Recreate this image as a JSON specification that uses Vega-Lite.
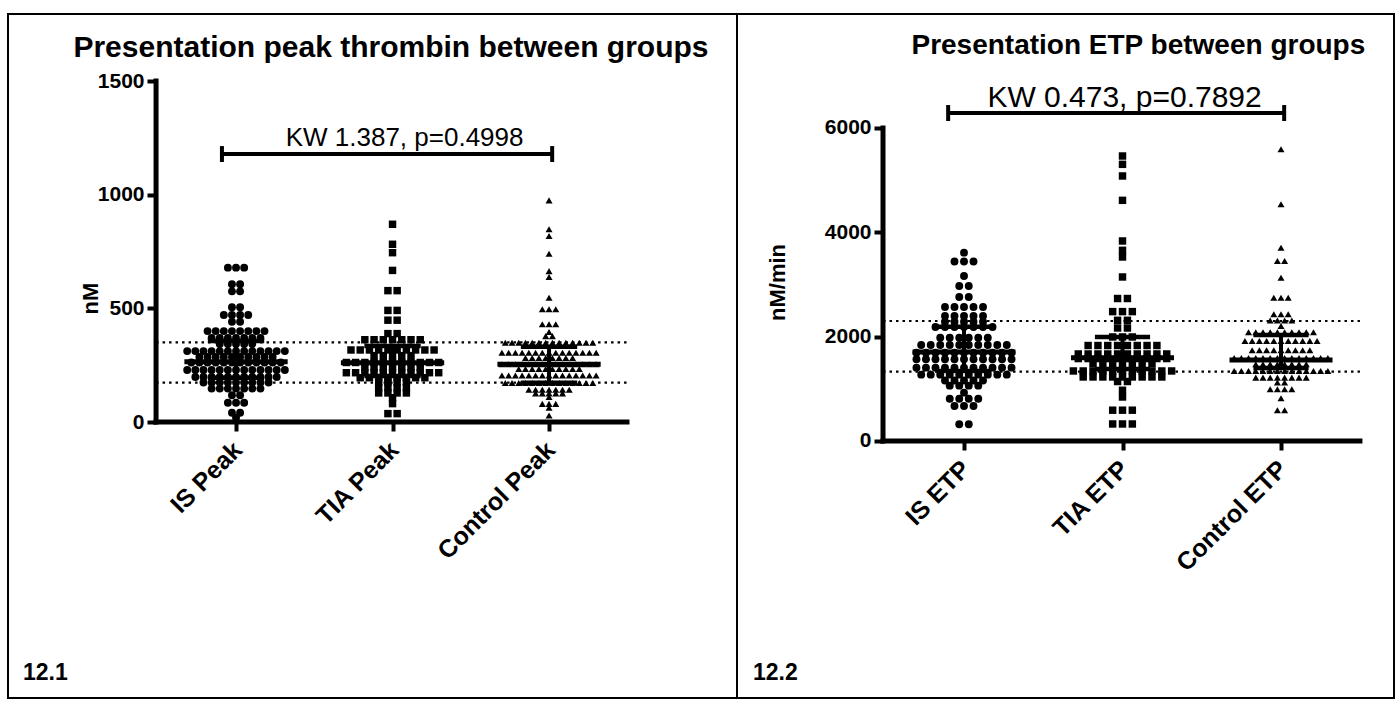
{
"$schema": "https://vega.github.io/schema/vega-lite/v6.json",
"background": "white",
"padding": {"left": 7, "top": 13, "right": 6, "bottom": 7},
"spacing": 0,
"bounds": "flush",
"config": {"view": {"stroke": "black", "strokeWidth": 2}, "font": "Liberation Sans", "axis": {"labelColor": "black", "titleColor": "black", "tickColor": "black"}},
"resolve": {"scale": {"x": "independent", "y": "independent", "shape": "independent", "size": "independent"}},
"datasets": {
"peakStats": [{"group":"IS Peak","median":265,"q1":195,"q3":356},{"group":"TIA Peak","median":261,"q1":202,"q3":334},{"group":"Control Peak","median":254,"q1":173,"q3":331}],
"etpStats": [{"group":"IS ETP","median":1706,"q1":1342,"q3":2191},{"group":"TIA ETP","median":1597,"q1":1380,"q3":1994},{"group":"Control ETP","median":1553,"q1":1400,"q3":2032}],
"peak": [
{"group":"IS Peak","value":679},{"group":"IS Peak","value":679},{"group":"IS Peak","value":679},
{"group":"IS Peak","value":606},{"group":"IS Peak","value":606},
{"group":"IS Peak","value":575},{"group":"IS Peak","value":575},
{"group":"IS Peak","value":505},{"group":"IS Peak","value":505},
{"group":"IS Peak","value":471},{"group":"IS Peak","value":471},{"group":"IS Peak","value":471},{"group":"IS Peak","value":471},
{"group":"IS Peak","value":441},{"group":"IS Peak","value":441},
{"group":"IS Peak","value":400},{"group":"IS Peak","value":400},{"group":"IS Peak","value":400},{"group":"IS Peak","value":400},{"group":"IS Peak","value":400},{"group":"IS Peak","value":400},{"group":"IS Peak","value":400},{"group":"IS Peak","value":400},
{"group":"IS Peak","value":370},{"group":"IS Peak","value":370},{"group":"IS Peak","value":370},{"group":"IS Peak","value":370},{"group":"IS Peak","value":370},{"group":"IS Peak","value":370},{"group":"IS Peak","value":370},
{"group":"IS Peak","value":343},{"group":"IS Peak","value":343},{"group":"IS Peak","value":343},{"group":"IS Peak","value":343},{"group":"IS Peak","value":343},
{"group":"IS Peak","value":312},{"group":"IS Peak","value":312},{"group":"IS Peak","value":312},{"group":"IS Peak","value":312},{"group":"IS Peak","value":312},{"group":"IS Peak","value":312},{"group":"IS Peak","value":312},{"group":"IS Peak","value":312},{"group":"IS Peak","value":312},{"group":"IS Peak","value":312},{"group":"IS Peak","value":312},{"group":"IS Peak","value":312},{"group":"IS Peak","value":312},
{"group":"IS Peak","value":286},{"group":"IS Peak","value":286},{"group":"IS Peak","value":286},{"group":"IS Peak","value":286},{"group":"IS Peak","value":286},{"group":"IS Peak","value":286},{"group":"IS Peak","value":286},{"group":"IS Peak","value":286},{"group":"IS Peak","value":286},{"group":"IS Peak","value":286},
{"group":"IS Peak","value":262},{"group":"IS Peak","value":262},{"group":"IS Peak","value":262},{"group":"IS Peak","value":262},{"group":"IS Peak","value":262},{"group":"IS Peak","value":262},{"group":"IS Peak","value":262},{"group":"IS Peak","value":262},{"group":"IS Peak","value":262},{"group":"IS Peak","value":262},{"group":"IS Peak","value":262},{"group":"IS Peak","value":262},
{"group":"IS Peak","value":229},{"group":"IS Peak","value":229},{"group":"IS Peak","value":229},{"group":"IS Peak","value":229},{"group":"IS Peak","value":229},{"group":"IS Peak","value":229},{"group":"IS Peak","value":229},{"group":"IS Peak","value":229},{"group":"IS Peak","value":229},{"group":"IS Peak","value":229},{"group":"IS Peak","value":229},{"group":"IS Peak","value":229},{"group":"IS Peak","value":229},
{"group":"IS Peak","value":198},{"group":"IS Peak","value":198},{"group":"IS Peak","value":198},{"group":"IS Peak","value":198},{"group":"IS Peak","value":198},{"group":"IS Peak","value":198},{"group":"IS Peak","value":198},{"group":"IS Peak","value":198},{"group":"IS Peak","value":198},{"group":"IS Peak","value":198},{"group":"IS Peak","value":198},
{"group":"IS Peak","value":174},{"group":"IS Peak","value":174},{"group":"IS Peak","value":174},{"group":"IS Peak","value":174},{"group":"IS Peak","value":174},{"group":"IS Peak","value":174},{"group":"IS Peak","value":174},{"group":"IS Peak","value":174},{"group":"IS Peak","value":174},
{"group":"IS Peak","value":147},{"group":"IS Peak","value":147},{"group":"IS Peak","value":147},{"group":"IS Peak","value":147},{"group":"IS Peak","value":147},{"group":"IS Peak","value":147},{"group":"IS Peak","value":147},
{"group":"IS Peak","value":118},{"group":"IS Peak","value":118},
{"group":"IS Peak","value":85},{"group":"IS Peak","value":85},{"group":"IS Peak","value":85},
{"group":"IS Peak","value":41},{"group":"IS Peak","value":41},
{"group":"IS Peak","value":19},
{"group":"TIA Peak","value":870},{"group":"TIA Peak","value":782},{"group":"TIA Peak","value":745},{"group":"TIA Peak","value":667},
{"group":"TIA Peak","value":578},{"group":"TIA Peak","value":578},
{"group":"TIA Peak","value":491},{"group":"TIA Peak","value":491},
{"group":"TIA Peak","value":448},{"group":"TIA Peak","value":448},
{"group":"TIA Peak","value":389},{"group":"TIA Peak","value":389},
{"group":"TIA Peak","value":362},{"group":"TIA Peak","value":362},{"group":"TIA Peak","value":362},{"group":"TIA Peak","value":362},{"group":"TIA Peak","value":362},{"group":"TIA Peak","value":362},{"group":"TIA Peak","value":362},
{"group":"TIA Peak","value":317},{"group":"TIA Peak","value":317},{"group":"TIA Peak","value":317},{"group":"TIA Peak","value":317},{"group":"TIA Peak","value":317},{"group":"TIA Peak","value":317},{"group":"TIA Peak","value":317},{"group":"TIA Peak","value":317},{"group":"TIA Peak","value":317},{"group":"TIA Peak","value":317},
{"group":"TIA Peak","value":292},{"group":"TIA Peak","value":292},{"group":"TIA Peak","value":292},{"group":"TIA Peak","value":292},{"group":"TIA Peak","value":292},
{"group":"TIA Peak","value":262},{"group":"TIA Peak","value":262},{"group":"TIA Peak","value":262},{"group":"TIA Peak","value":262},{"group":"TIA Peak","value":262},{"group":"TIA Peak","value":262},{"group":"TIA Peak","value":262},{"group":"TIA Peak","value":262},{"group":"TIA Peak","value":262},{"group":"TIA Peak","value":262},{"group":"TIA Peak","value":262},
{"group":"TIA Peak","value":240},{"group":"TIA Peak","value":240},{"group":"TIA Peak","value":240},{"group":"TIA Peak","value":240},{"group":"TIA Peak","value":240},{"group":"TIA Peak","value":240},{"group":"TIA Peak","value":240},
{"group":"TIA Peak","value":217},{"group":"TIA Peak","value":217},{"group":"TIA Peak","value":217},{"group":"TIA Peak","value":217},{"group":"TIA Peak","value":217},{"group":"TIA Peak","value":217},{"group":"TIA Peak","value":217},{"group":"TIA Peak","value":217},{"group":"TIA Peak","value":217},{"group":"TIA Peak","value":217},{"group":"TIA Peak","value":217},
{"group":"TIA Peak","value":195},{"group":"TIA Peak","value":195},{"group":"TIA Peak","value":195},{"group":"TIA Peak","value":195},{"group":"TIA Peak","value":195},{"group":"TIA Peak","value":195},{"group":"TIA Peak","value":195},{"group":"TIA Peak","value":195},
{"group":"TIA Peak","value":176},{"group":"TIA Peak","value":176},{"group":"TIA Peak","value":176},{"group":"TIA Peak","value":176},
{"group":"TIA Peak","value":151},{"group":"TIA Peak","value":151},{"group":"TIA Peak","value":151},{"group":"TIA Peak","value":151},
{"group":"TIA Peak","value":128},{"group":"TIA Peak","value":128},{"group":"TIA Peak","value":128},{"group":"TIA Peak","value":128},
{"group":"TIA Peak","value":107},{"group":"TIA Peak","value":81},
{"group":"TIA Peak","value":37},{"group":"TIA Peak","value":37},
{"group":"Control Peak","value":975},{"group":"Control Peak","value":848},{"group":"Control Peak","value":818},{"group":"Control Peak","value":740},{"group":"Control Peak","value":664},{"group":"Control Peak","value":638},{"group":"Control Peak","value":547},
{"group":"Control Peak","value":496},{"group":"Control Peak","value":496},{"group":"Control Peak","value":496},
{"group":"Control Peak","value":430},{"group":"Control Peak","value":430},{"group":"Control Peak","value":430},
{"group":"Control Peak","value":396},
{"group":"Control Peak","value":378},{"group":"Control Peak","value":378},
{"group":"Control Peak","value":349},{"group":"Control Peak","value":349},{"group":"Control Peak","value":349},{"group":"Control Peak","value":349},{"group":"Control Peak","value":349},{"group":"Control Peak","value":349},{"group":"Control Peak","value":349},{"group":"Control Peak","value":349},{"group":"Control Peak","value":349},{"group":"Control Peak","value":349},{"group":"Control Peak","value":349},{"group":"Control Peak","value":349},{"group":"Control Peak","value":349},{"group":"Control Peak","value":349},
{"group":"Control Peak","value":305},{"group":"Control Peak","value":305},{"group":"Control Peak","value":305},{"group":"Control Peak","value":305},{"group":"Control Peak","value":305},{"group":"Control Peak","value":305},{"group":"Control Peak","value":305},{"group":"Control Peak","value":305},{"group":"Control Peak","value":305},{"group":"Control Peak","value":305},{"group":"Control Peak","value":305},{"group":"Control Peak","value":305},{"group":"Control Peak","value":305},{"group":"Control Peak","value":305},{"group":"Control Peak","value":305},
{"group":"Control Peak","value":282},{"group":"Control Peak","value":282},{"group":"Control Peak","value":282},{"group":"Control Peak","value":282},{"group":"Control Peak","value":282},{"group":"Control Peak","value":282},{"group":"Control Peak","value":282},{"group":"Control Peak","value":282},
{"group":"Control Peak","value":254},{"group":"Control Peak","value":254},{"group":"Control Peak","value":254},{"group":"Control Peak","value":254},{"group":"Control Peak","value":254},{"group":"Control Peak","value":254},{"group":"Control Peak","value":254},{"group":"Control Peak","value":254},{"group":"Control Peak","value":254},{"group":"Control Peak","value":254},{"group":"Control Peak","value":254},{"group":"Control Peak","value":254},{"group":"Control Peak","value":254},{"group":"Control Peak","value":254},{"group":"Control Peak","value":254},
{"group":"Control Peak","value":233},{"group":"Control Peak","value":233},{"group":"Control Peak","value":233},{"group":"Control Peak","value":233},{"group":"Control Peak","value":233},{"group":"Control Peak","value":233},{"group":"Control Peak","value":233},{"group":"Control Peak","value":233},{"group":"Control Peak","value":233},{"group":"Control Peak","value":233},
{"group":"Control Peak","value":205},{"group":"Control Peak","value":205},{"group":"Control Peak","value":205},{"group":"Control Peak","value":205},{"group":"Control Peak","value":205},{"group":"Control Peak","value":205},{"group":"Control Peak","value":205},{"group":"Control Peak","value":205},{"group":"Control Peak","value":205},{"group":"Control Peak","value":205},{"group":"Control Peak","value":205},{"group":"Control Peak","value":205},{"group":"Control Peak","value":205},{"group":"Control Peak","value":205},{"group":"Control Peak","value":205},
{"group":"Control Peak","value":172},{"group":"Control Peak","value":172},{"group":"Control Peak","value":172},{"group":"Control Peak","value":172},{"group":"Control Peak","value":172},{"group":"Control Peak","value":172},{"group":"Control Peak","value":172},{"group":"Control Peak","value":172},{"group":"Control Peak","value":172},{"group":"Control Peak","value":172},{"group":"Control Peak","value":172},{"group":"Control Peak","value":172},{"group":"Control Peak","value":172},{"group":"Control Peak","value":172},
{"group":"Control Peak","value":142},{"group":"Control Peak","value":142},{"group":"Control Peak","value":142},{"group":"Control Peak","value":142},{"group":"Control Peak","value":142},{"group":"Control Peak","value":142},{"group":"Control Peak","value":142},
{"group":"Control Peak","value":126},{"group":"Control Peak","value":126},{"group":"Control Peak","value":126},{"group":"Control Peak","value":126},{"group":"Control Peak","value":126},
{"group":"Control Peak","value":110},
{"group":"Control Peak","value":80},{"group":"Control Peak","value":80},{"group":"Control Peak","value":80},
{"group":"Control Peak","value":63},{"group":"Control Peak","value":29}
],
"etp": [
{"group":"IS ETP","value":3610},
{"group":"IS ETP","value":3440},{"group":"IS ETP","value":3440},{"group":"IS ETP","value":3440},
{"group":"IS ETP","value":3163},
{"group":"IS ETP","value":2970},{"group":"IS ETP","value":2970},
{"group":"IS ETP","value":2760},{"group":"IS ETP","value":2760},
{"group":"IS ETP","value":2568},{"group":"IS ETP","value":2568},{"group":"IS ETP","value":2568},{"group":"IS ETP","value":2568},{"group":"IS ETP","value":2568},
{"group":"IS ETP","value":2396},{"group":"IS ETP","value":2396},{"group":"IS ETP","value":2396},{"group":"IS ETP","value":2396},{"group":"IS ETP","value":2396},
{"group":"IS ETP","value":2287},{"group":"IS ETP","value":2287},{"group":"IS ETP","value":2287},{"group":"IS ETP","value":2287},{"group":"IS ETP","value":2287},
{"group":"IS ETP","value":2185},{"group":"IS ETP","value":2185},{"group":"IS ETP","value":2185},{"group":"IS ETP","value":2185},{"group":"IS ETP","value":2185},{"group":"IS ETP","value":2185},{"group":"IS ETP","value":2185},
{"group":"IS ETP","value":1980},{"group":"IS ETP","value":1980},{"group":"IS ETP","value":1980},{"group":"IS ETP","value":1980},{"group":"IS ETP","value":1980},{"group":"IS ETP","value":1980},
{"group":"IS ETP","value":1840},{"group":"IS ETP","value":1840},{"group":"IS ETP","value":1840},{"group":"IS ETP","value":1840},{"group":"IS ETP","value":1840},{"group":"IS ETP","value":1840},{"group":"IS ETP","value":1840},{"group":"IS ETP","value":1840},{"group":"IS ETP","value":1840},{"group":"IS ETP","value":1840},
{"group":"IS ETP","value":1693},{"group":"IS ETP","value":1693},{"group":"IS ETP","value":1693},{"group":"IS ETP","value":1693},{"group":"IS ETP","value":1693},{"group":"IS ETP","value":1693},{"group":"IS ETP","value":1693},{"group":"IS ETP","value":1693},{"group":"IS ETP","value":1693},{"group":"IS ETP","value":1693},{"group":"IS ETP","value":1693},
{"group":"IS ETP","value":1566},{"group":"IS ETP","value":1566},{"group":"IS ETP","value":1566},{"group":"IS ETP","value":1566},{"group":"IS ETP","value":1566},{"group":"IS ETP","value":1566},{"group":"IS ETP","value":1566},{"group":"IS ETP","value":1566},{"group":"IS ETP","value":1566},{"group":"IS ETP","value":1566},{"group":"IS ETP","value":1566},
{"group":"IS ETP","value":1405},{"group":"IS ETP","value":1405},{"group":"IS ETP","value":1405},{"group":"IS ETP","value":1405},{"group":"IS ETP","value":1405},{"group":"IS ETP","value":1405},{"group":"IS ETP","value":1405},{"group":"IS ETP","value":1405},{"group":"IS ETP","value":1405},{"group":"IS ETP","value":1405},{"group":"IS ETP","value":1405},
{"group":"IS ETP","value":1271},{"group":"IS ETP","value":1271},{"group":"IS ETP","value":1271},{"group":"IS ETP","value":1271},{"group":"IS ETP","value":1271},{"group":"IS ETP","value":1271},{"group":"IS ETP","value":1271},{"group":"IS ETP","value":1271},{"group":"IS ETP","value":1271},{"group":"IS ETP","value":1271},
{"group":"IS ETP","value":1160},{"group":"IS ETP","value":1160},{"group":"IS ETP","value":1160},{"group":"IS ETP","value":1160},{"group":"IS ETP","value":1160},
{"group":"IS ETP","value":1060},{"group":"IS ETP","value":1060},{"group":"IS ETP","value":1060},{"group":"IS ETP","value":1060},
{"group":"IS ETP","value":926},
{"group":"IS ETP","value":810},{"group":"IS ETP","value":810},{"group":"IS ETP","value":810},{"group":"IS ETP","value":810},
{"group":"IS ETP","value":671},{"group":"IS ETP","value":671},{"group":"IS ETP","value":671},
{"group":"IS ETP","value":320},{"group":"IS ETP","value":320},
{"group":"TIA ETP","value":5463},{"group":"TIA ETP","value":5303},{"group":"TIA ETP","value":5080},{"group":"TIA ETP","value":4613},{"group":"TIA ETP","value":3834},{"group":"TIA ETP","value":3655},{"group":"TIA ETP","value":3527},{"group":"TIA ETP","value":3144},
{"group":"TIA ETP","value":2731},{"group":"TIA ETP","value":2731},
{"group":"TIA ETP","value":2480},{"group":"TIA ETP","value":2480},{"group":"TIA ETP","value":2480},
{"group":"TIA ETP","value":2313},{"group":"TIA ETP","value":2313},
{"group":"TIA ETP","value":2166},{"group":"TIA ETP","value":2166},
{"group":"TIA ETP","value":1994},{"group":"TIA ETP","value":1994},{"group":"TIA ETP","value":1994},
{"group":"TIA ETP","value":1830},{"group":"TIA ETP","value":1830},{"group":"TIA ETP","value":1830},{"group":"TIA ETP","value":1830},{"group":"TIA ETP","value":1830},{"group":"TIA ETP","value":1830},{"group":"TIA ETP","value":1830},{"group":"TIA ETP","value":1830},
{"group":"TIA ETP","value":1668},{"group":"TIA ETP","value":1668},{"group":"TIA ETP","value":1668},{"group":"TIA ETP","value":1668},{"group":"TIA ETP","value":1668},{"group":"TIA ETP","value":1668},{"group":"TIA ETP","value":1668},{"group":"TIA ETP","value":1668},{"group":"TIA ETP","value":1668},{"group":"TIA ETP","value":1668},
{"group":"TIA ETP","value":1580},{"group":"TIA ETP","value":1580},{"group":"TIA ETP","value":1580},{"group":"TIA ETP","value":1580},{"group":"TIA ETP","value":1580},{"group":"TIA ETP","value":1580},{"group":"TIA ETP","value":1580},{"group":"TIA ETP","value":1580},{"group":"TIA ETP","value":1580},{"group":"TIA ETP","value":1580},
{"group":"TIA ETP","value":1482},{"group":"TIA ETP","value":1482},{"group":"TIA ETP","value":1482},{"group":"TIA ETP","value":1482},{"group":"TIA ETP","value":1482},{"group":"TIA ETP","value":1482},{"group":"TIA ETP","value":1482},
{"group":"TIA ETP","value":1342},{"group":"TIA ETP","value":1342},{"group":"TIA ETP","value":1342},{"group":"TIA ETP","value":1342},{"group":"TIA ETP","value":1342},{"group":"TIA ETP","value":1342},{"group":"TIA ETP","value":1342},{"group":"TIA ETP","value":1342},{"group":"TIA ETP","value":1342},{"group":"TIA ETP","value":1342},{"group":"TIA ETP","value":1342},
{"group":"TIA ETP","value":1227},{"group":"TIA ETP","value":1227},{"group":"TIA ETP","value":1227},{"group":"TIA ETP","value":1227},{"group":"TIA ETP","value":1227},{"group":"TIA ETP","value":1227},{"group":"TIA ETP","value":1227},{"group":"TIA ETP","value":1227},{"group":"TIA ETP","value":1227},
{"group":"TIA ETP","value":1140},{"group":"TIA ETP","value":1140},
{"group":"TIA ETP","value":972},{"group":"TIA ETP","value":843},
{"group":"TIA ETP","value":590},{"group":"TIA ETP","value":590},{"group":"TIA ETP","value":590},
{"group":"TIA ETP","value":326},{"group":"TIA ETP","value":326},{"group":"TIA ETP","value":326},
{"group":"Control ETP","value":5591},{"group":"Control ETP","value":4537},{"group":"Control ETP","value":3705},
{"group":"Control ETP","value":3450},{"group":"Control ETP","value":3450},
{"group":"Control ETP","value":3130},
{"group":"Control ETP","value":2747},{"group":"Control ETP","value":2747},{"group":"Control ETP","value":2747},
{"group":"Control ETP","value":2428},{"group":"Control ETP","value":2428},{"group":"Control ETP","value":2428},
{"group":"Control ETP","value":2310},{"group":"Control ETP","value":2310},{"group":"Control ETP","value":2310},{"group":"Control ETP","value":2310},
{"group":"Control ETP","value":2204},
{"group":"Control ETP","value":2085},{"group":"Control ETP","value":2085},{"group":"Control ETP","value":2085},{"group":"Control ETP","value":2085},{"group":"Control ETP","value":2085},{"group":"Control ETP","value":2085},{"group":"Control ETP","value":2085},{"group":"Control ETP","value":2085},{"group":"Control ETP","value":2085},{"group":"Control ETP","value":2085},
{"group":"Control ETP","value":1917},{"group":"Control ETP","value":1917},{"group":"Control ETP","value":1917},{"group":"Control ETP","value":1917},{"group":"Control ETP","value":1917},{"group":"Control ETP","value":1917},{"group":"Control ETP","value":1917},{"group":"Control ETP","value":1917},{"group":"Control ETP","value":1917},{"group":"Control ETP","value":1917},{"group":"Control ETP","value":1917},
{"group":"Control ETP","value":1738},{"group":"Control ETP","value":1738},{"group":"Control ETP","value":1738},{"group":"Control ETP","value":1738},{"group":"Control ETP","value":1738},{"group":"Control ETP","value":1738},{"group":"Control ETP","value":1738},{"group":"Control ETP","value":1738},{"group":"Control ETP","value":1738},
{"group":"Control ETP","value":1590},{"group":"Control ETP","value":1590},{"group":"Control ETP","value":1590},{"group":"Control ETP","value":1590},{"group":"Control ETP","value":1590},{"group":"Control ETP","value":1590},{"group":"Control ETP","value":1590},{"group":"Control ETP","value":1590},{"group":"Control ETP","value":1590},{"group":"Control ETP","value":1590},{"group":"Control ETP","value":1590},{"group":"Control ETP","value":1590},{"group":"Control ETP","value":1590},{"group":"Control ETP","value":1590},
{"group":"Control ETP","value":1470},{"group":"Control ETP","value":1470},{"group":"Control ETP","value":1470},{"group":"Control ETP","value":1470},{"group":"Control ETP","value":1470},{"group":"Control ETP","value":1470},{"group":"Control ETP","value":1470},{"group":"Control ETP","value":1470},
{"group":"Control ETP","value":1342},{"group":"Control ETP","value":1342},{"group":"Control ETP","value":1342},{"group":"Control ETP","value":1342},{"group":"Control ETP","value":1342},{"group":"Control ETP","value":1342},{"group":"Control ETP","value":1342},{"group":"Control ETP","value":1342},{"group":"Control ETP","value":1342},{"group":"Control ETP","value":1342},{"group":"Control ETP","value":1342},{"group":"Control ETP","value":1342},{"group":"Control ETP","value":1342},{"group":"Control ETP","value":1342},
{"group":"Control ETP","value":1214},{"group":"Control ETP","value":1214},{"group":"Control ETP","value":1214},{"group":"Control ETP","value":1214},{"group":"Control ETP","value":1214},{"group":"Control ETP","value":1214},{"group":"Control ETP","value":1214},{"group":"Control ETP","value":1214},
{"group":"Control ETP","value":1120},{"group":"Control ETP","value":1120},
{"group":"Control ETP","value":990},{"group":"Control ETP","value":990},{"group":"Control ETP","value":990},{"group":"Control ETP","value":990},
{"group":"Control ETP","value":818},
{"group":"Control ETP","value":590},{"group":"Control ETP","value":590}
]
},
"hconcat": [
{
"width": 729, "height": 684,
"layer": [
{"data": {"name": "peak"},
 "transform": [
  {"window": [{"op": "row_number", "as": "rn"}, {"op": "count", "as": "cnt"}], "groupby": ["group", "value"], "frame": [null, null]},
  {"calculate": "indexof(['IS Peak','TIA Peak','Control Peak'], datum.group)", "as": "idx"},
  {"calculate": "datum.idx + (datum.rn - 1 - (datum.cnt - 1) / 2) * (datum.group === 'Control Peak' ? 0.043 : (datum.group === 'TIA Peak' ? 0.059 : 0.052))", "as": "xpos"}
 ],
 "mark": {"type": "point", "filled": true, "opacity": 1, "color": "black"},
 "encoding": {
  "x": {"field": "xpos", "type": "quantitative", "scale": {"domain": [-1.457, 3.201], "nice": false, "zero": false},
        "axis": {"values": [0, 1, 2], "labelExpr": "['IS Peak','TIA Peak','Control Peak'][datum.value]", "offset": -276, "domain": false, "grid": false, "tickSize": 9, "tickWidth": 4, "labelAngle": -45, "labelFontSize": 25, "labelFontWeight": "bold", "labelPadding": 6, "labelOffset": -7, "labelOverlap": false, "labelFlush": false, "title": null}},
  "y": {"field": "value", "type": "quantitative", "scale": {"domain": [-1214, 1795], "nice": false, "zero": false},
        "axis": {"values": [0, 500, 1000, 1500], "format": "d", "offset": -148, "domain": false, "grid": false, "tickSize": 9, "tickWidth": 4, "labelFontSize": 21, "labelFontWeight": "bold", "labelPadding": 3, "labelOverlap": false, "labelFlush": false, "title": "nM", "titleFontSize": 22, "titleFontWeight": "bold", "titleX": -66, "titleY": 284, "titleAngle": 270, "titleAlign": "center", "titleBaseline": "middle"}},
  "shape": {"field": "group", "type": "nominal", "scale": {"domain": ["IS Peak", "TIA Peak", "Control Peak"], "range": ["circle", "square", "triangle-up"]}, "legend": null},
  "size": {"field": "group", "type": "ordinal", "scale": {"domain": ["IS Peak", "TIA Peak", "Control Peak"], "range": [62, 49, 45]}, "legend": null}
 }},
{"data": {"values": [{"ref": 350}, {"ref": 173}]},
 "mark": {"type": "rule", "strokeDash": [2.5, 4], "strokeWidth": 2.2, "color": "black"},
 "encoding": {"x": {"datum": -0.511, "type": "quantitative"}, "x2": {"datum": 2.498}, "y": {"field": "ref", "type": "quantitative"}}},
{"data": {"name": "peakStats"},
 "transform": [
  {"calculate": "indexof(['IS Peak','TIA Peak','Control Peak'], datum.group)", "as": "idx"},
  {"calculate": "datum.idx - 0.33", "as": "m1"}, {"calculate": "datum.idx + 0.33", "as": "m2"},
  {"calculate": "datum.idx - 0.18", "as": "c1"}, {"calculate": "datum.idx + 0.18", "as": "c2"}
 ],
 "layer": [
  {"mark": {"type": "rule", "strokeWidth": 4, "color": "black"},
   "encoding": {"x": {"field": "idx", "type": "quantitative"}, "y": {"field": "q1", "type": "quantitative"}, "y2": {"field": "q3"}}},
  {"mark": {"type": "rule", "strokeWidth": 5, "color": "black"},
   "encoding": {"x": {"field": "m1", "type": "quantitative"}, "x2": {"field": "m2"}, "y": {"field": "median", "type": "quantitative"}}},
  {"transform": [{"fold": ["q1", "q3"], "as": ["k", "q"]}],
   "mark": {"type": "rule", "strokeWidth": 4.5, "color": "black"},
   "encoding": {"x": {"field": "c1", "type": "quantitative"}, "x2": {"field": "c2"}, "y": {"field": "q", "type": "quantitative"}}}
 ]},
{"data": {"values": [{}]},
 "mark": {"type": "rule", "strokeWidth": 5, "color": "black", "strokeCap": "square"},
 "encoding": {"x": {"datum": -0.511, "type": "quantitative"}, "x2": {"datum": 2.498}, "y": {"datum": 0, "type": "quantitative"}}},
{"data": {"values": [{}]},
 "mark": {"type": "rule", "strokeWidth": 5, "color": "black", "strokeCap": "square"},
 "encoding": {"x": {"datum": -0.511, "type": "quantitative"}, "y": {"datum": 0, "type": "quantitative"}, "y2": {"datum": 1500}}},
{"data": {"values": [{}]},
 "mark": {"type": "rule", "strokeWidth": 4, "color": "black"},
 "encoding": {"x": {"datum": -0.09, "type": "quantitative"}, "x2": {"datum": 2.02}, "y": {"datum": 1179, "type": "quantitative"}}},
{"data": {"values": [{}]},
 "mark": {"type": "rule", "strokeWidth": 4, "color": "black"},
 "encoding": {"x": {"datum": -0.09, "type": "quantitative"}, "y": {"datum": 1144, "type": "quantitative"}, "y2": {"datum": 1214}}},
{"data": {"values": [{}]},
 "mark": {"type": "rule", "strokeWidth": 4, "color": "black"},
 "encoding": {"x": {"datum": 2.02, "type": "quantitative"}, "y": {"datum": 1144, "type": "quantitative"}, "y2": {"datum": 1214}}},
{"data": {"values": [{}]},
 "mark": {"type": "text", "text": "KW 1.387, p=0.4998", "fontSize": 26, "font": "Liberation Sans", "color": "black", "align": "center", "baseline": "middle"},
 "encoding": {"x": {"datum": 1.077, "type": "quantitative"}, "y": {"datum": 1249, "type": "quantitative"}}},
{"data": {"values": [{}]},
 "mark": {"type": "text", "text": "Presentation peak thrombin between groups", "fontSize": 30, "fontWeight": "bold", "font": "Liberation Sans", "color": "black", "align": "center", "baseline": "middle"},
 "encoding": {"x": {"datum": 0.99, "type": "quantitative"}, "y": {"datum": 1645, "type": "quantitative"}}},
{"data": {"values": [{}]},
 "mark": {"type": "text", "text": "12.1", "fontSize": 23, "fontWeight": "bold", "font": "Liberation Sans", "color": "black", "align": "left", "baseline": "middle"},
 "encoding": {"x": {"datum": -1.361, "type": "quantitative"}, "y": {"datum": -1104, "type": "quantitative"}}}
]
},
{
"width": 657, "height": 684,
"layer": [
{"data": {"name": "etp"},
 "transform": [
  {"window": [{"op": "row_number", "as": "rn"}, {"op": "count", "as": "cnt"}], "groupby": ["group", "value"], "frame": [null, null]},
  {"calculate": "indexof(['IS ETP','TIA ETP','Control ETP'], datum.group)", "as": "idx"},
  {"calculate": "datum.idx + (datum.rn - 1 - (datum.cnt - 1) / 2) * (datum.group === 'Control ETP' ? 0.0455 : (datum.group === 'TIA ETP' ? 0.062 : 0.06))", "as": "xpos"}
 ],
 "mark": {"type": "point", "filled": true, "opacity": 1, "color": "black"},
 "encoding": {
  "x": {"field": "xpos", "type": "quantitative", "scale": {"domain": [-1.4322, 2.7129], "nice": false, "zero": false},
        "axis": {"values": [0, 1, 2], "labelExpr": "['IS ETP','TIA ETP','Control ETP'][datum.value]", "offset": -257, "domain": false, "grid": false, "tickSize": 9, "tickWidth": 4, "labelAngle": -45, "labelFontSize": 25, "labelFontWeight": "bold", "labelPadding": 6, "labelOffset": -7, "labelOverlap": false, "labelFlush": false, "title": null}},
  "y": {"field": "value", "type": "quantitative", "scale": {"domain": [-4927, 8185], "nice": false, "zero": false},
        "axis": {"values": [0, 2000, 4000, 6000], "format": "d", "offset": -146, "domain": false, "grid": false, "tickSize": 9, "tickWidth": 4, "labelFontSize": 21, "labelFontWeight": "bold", "labelPadding": 3, "labelOverlap": false, "labelFlush": false, "title": "nM/min", "titleFontSize": 22, "titleFontWeight": "bold", "titleX": -106, "titleY": 268, "titleAngle": 270, "titleAlign": "center", "titleBaseline": "middle"}},
  "shape": {"field": "group", "type": "nominal", "scale": {"domain": ["IS ETP", "TIA ETP", "Control ETP"], "range": ["circle", "square", "triangle-up"]}, "legend": null},
  "size": {"field": "group", "type": "ordinal", "scale": {"domain": ["IS ETP", "TIA ETP", "Control ETP"], "range": [62, 49, 45]}, "legend": null}
 }},
{"data": {"values": [{"ref": 2300}, {"ref": 1330}]},
 "mark": {"type": "rule", "strokeDash": [2.5, 4], "strokeWidth": 2.2, "color": "black"},
 "encoding": {"x": {"datum": -0.511, "type": "quantitative"}, "x2": {"datum": 2.498}, "y": {"field": "ref", "type": "quantitative"}}},
{"data": {"name": "etpStats"},
 "transform": [
  {"calculate": "indexof(['IS ETP','TIA ETP','Control ETP'], datum.group)", "as": "idx"},
  {"calculate": "datum.idx - 0.325", "as": "m1"}, {"calculate": "datum.idx + 0.325", "as": "m2"},
  {"calculate": "datum.idx - 0.174", "as": "c1"}, {"calculate": "datum.idx + 0.174", "as": "c2"}
 ],
 "layer": [
  {"mark": {"type": "rule", "strokeWidth": 4, "color": "black"},
   "encoding": {"x": {"field": "idx", "type": "quantitative"}, "y": {"field": "q1", "type": "quantitative"}, "y2": {"field": "q3"}}},
  {"mark": {"type": "rule", "strokeWidth": 5, "color": "black"},
   "encoding": {"x": {"field": "m1", "type": "quantitative"}, "x2": {"field": "m2"}, "y": {"field": "median", "type": "quantitative"}}},
  {"transform": [{"fold": ["q1", "q3"], "as": ["k", "q"]}],
   "mark": {"type": "rule", "strokeWidth": 4.5, "color": "black"},
   "encoding": {"x": {"field": "c1", "type": "quantitative"}, "x2": {"field": "c2"}, "y": {"field": "q", "type": "quantitative"}}}
 ]},
{"data": {"values": [{}]},
 "mark": {"type": "rule", "strokeWidth": 5, "color": "black", "strokeCap": "square"},
 "encoding": {"x": {"datum": -0.511, "type": "quantitative"}, "x2": {"datum": 2.498}, "y": {"datum": 0, "type": "quantitative"}}},
{"data": {"values": [{}]},
 "mark": {"type": "rule", "strokeWidth": 5, "color": "black", "strokeCap": "square"},
 "encoding": {"x": {"datum": -0.511, "type": "quantitative"}, "y": {"datum": 0, "type": "quantitative"}, "y2": {"datum": 6000}}},
{"data": {"values": [{}]},
 "mark": {"type": "rule", "strokeWidth": 4, "color": "black"},
 "encoding": {"x": {"datum": -0.1, "type": "quantitative"}, "x2": {"datum": 2.02}, "y": {"datum": 6287, "type": "quantitative"}}},
{"data": {"values": [{}]},
 "mark": {"type": "rule", "strokeWidth": 4, "color": "black"},
 "encoding": {"x": {"datum": -0.1, "type": "quantitative"}, "y": {"datum": 6134, "type": "quantitative"}, "y2": {"datum": 6440}}},
{"data": {"values": [{}]},
 "mark": {"type": "rule", "strokeWidth": 4, "color": "black"},
 "encoding": {"x": {"datum": 2.02, "type": "quantitative"}, "y": {"datum": 6134, "type": "quantitative"}, "y2": {"datum": 6440}}},
{"data": {"values": [{}]},
 "mark": {"type": "text", "text": "KW 0.473, p=0.7892", "fontSize": 30, "font": "Liberation Sans", "color": "black", "align": "center", "baseline": "middle"},
 "encoding": {"x": {"datum": 1.013, "type": "quantitative"}, "y": {"datum": 6575, "type": "quantitative"}}},
{"data": {"values": [{}]},
 "mark": {"type": "text", "text": "Presentation ETP between groups", "fontSize": 28, "fontWeight": "bold", "font": "Liberation Sans", "color": "black", "align": "center", "baseline": "middle"},
 "encoding": {"x": {"datum": 1.1, "type": "quantitative"}, "y": {"datum": 7572, "type": "quantitative"}}},
{"data": {"values": [{}]},
 "mark": {"type": "text", "text": "12.2", "fontSize": 23, "fontWeight": "bold", "font": "Liberation Sans", "color": "black", "align": "left", "baseline": "middle"},
 "encoding": {"x": {"datum": -1.331, "type": "quantitative"}, "y": {"datum": -4447, "type": "quantitative"}}}
]
}
]
}
